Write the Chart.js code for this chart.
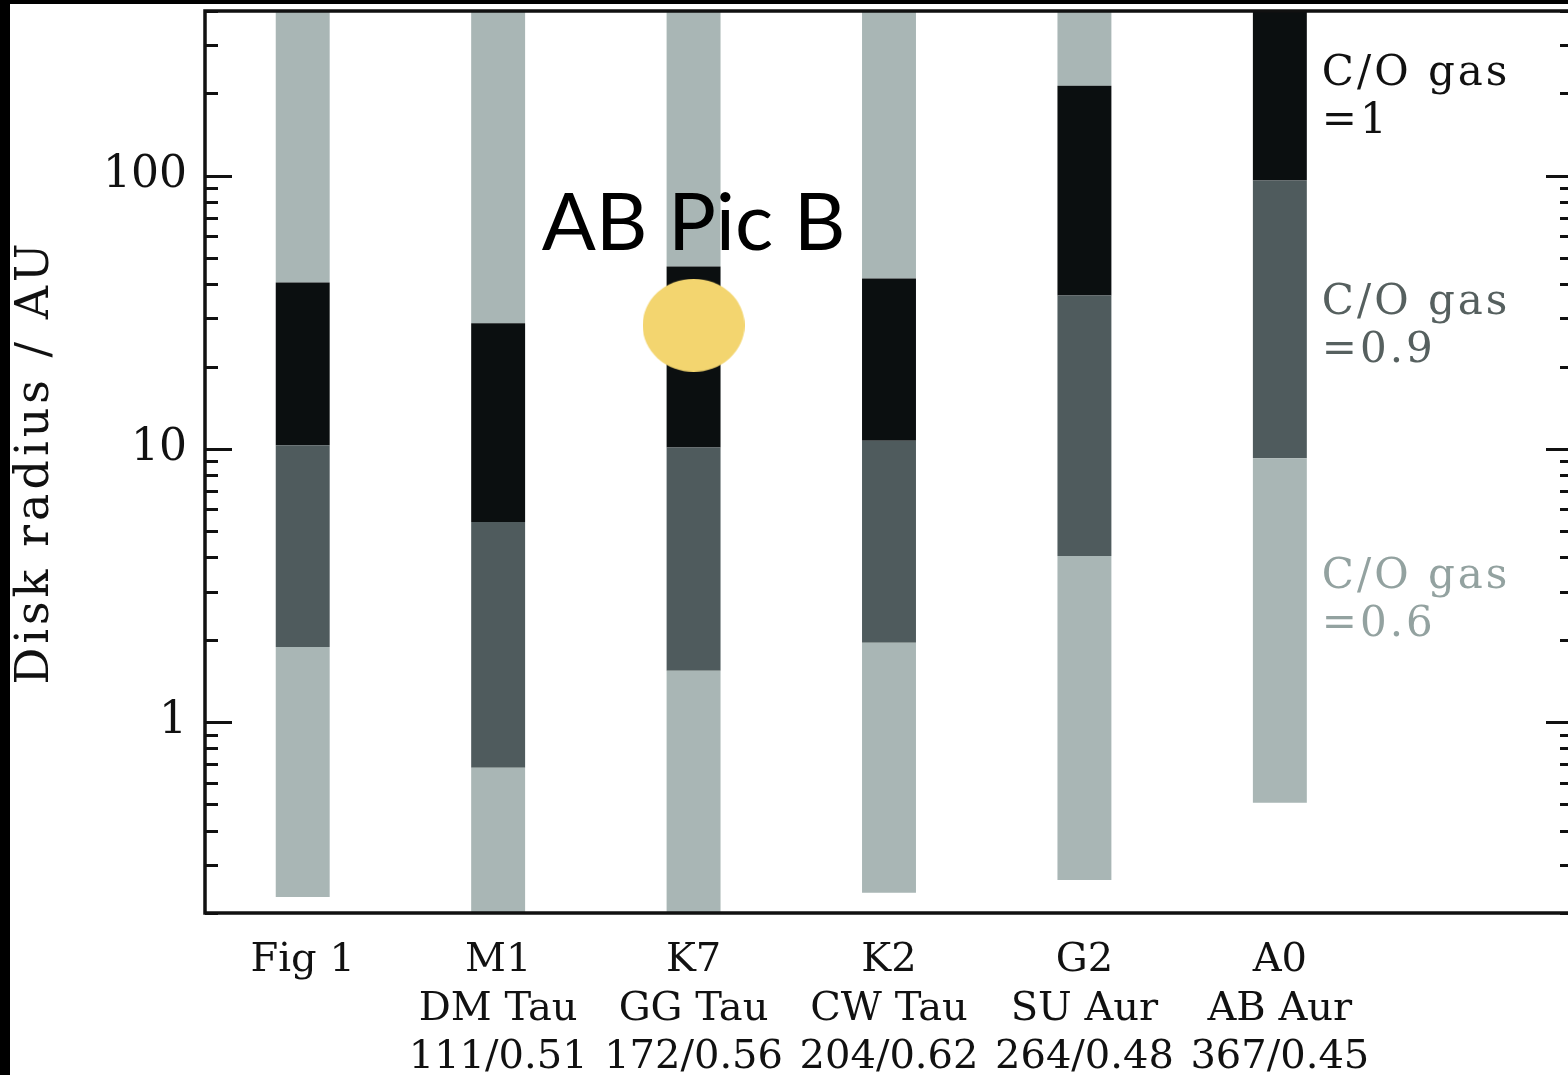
<!DOCTYPE html>
<html>
<head>
<meta charset="utf-8">
<script src="https://cdn.jsdelivr.net/npm/chart.js@4.4.1/dist/chart.umd.min.js"></script>
<style>
  html, body { margin: 0; padding: 0; background: #000; overflow: hidden; width: 1568px; height: 1075px; }
  #wrap { position: absolute; left: 10px; top: 4px; width: 1570px; height: 1071px; background: #fff; }
</style>
</head>
<body>
<div id="wrap"><canvas id="chart" width="1570" height="1071"></canvas></div>
<script>
const categories = ["Fig 1", "M1", "K7", "K2", "G2", "A0", ""];
const starNames = ["", "DM Tau", "GG Tau", "CW Tau", "SU Aur", "AB Aur", ""];
const starParams = ["", "111/0.51", "172/0.56", "204/0.62", "264/0.48", "367/0.45", ""];

// disk radius ranges (AU) for each C/O gas zone, [inner, outer]
const innerGas06 = [[0.229, 1.88], [0.1, 0.68], [0.1, 1.54], [0.237, 1.95], [0.264, 4.05], [0.506, 9.23], null];
const gas09 = [[1.88, 10.3], [0.68, 5.39], [1.54, 10.1], [1.95, 10.7], [4.05, 36.4], [9.23, 95.9], null];
const gas1 = [[10.3, 40.6], [5.39, 28.8], [10.1, 46.5], [10.7, 42.0], [36.4, 213], [95.9, 1000], null];
const outerGas06 = [[40.6, 1000], [28.8, 1000], [46.5, 1000], [42.0, 1000], [213, 1000], null, null];

// AB Pic B position
const abPicB = [{ x: "K7", y: 28.3 }];

const yTicks = [0.2, 0.3, 0.4, 0.5, 0.6, 0.7, 0.8, 0.9, 1, 2, 3, 4, 5, 6, 7, 8, 9, 10,
                20, 30, 40, 50, 60, 70, 80, 90, 100, 200, 300, 400];
const yLabels = [1, 10, 100];

const LIGHT = "#a9b6b5";
const DARK = "#4f5b5d";
const BLACK = "#0b0f10";
const SERIF = "'DejaVu Serif', serif";

// slightly wide ellipse used as the marker
const blob = document.createElement("canvas");
blob.width = 102;
blob.height = 93;
(function () {
    const c = blob.getContext("2d");
    c.fillStyle = "#f3d56f";
    c.beginPath();
    c.ellipse(51, 46.5, 51, 46.5, 0, 0, Math.PI * 2);
    c.fill();
})();

const frame = {
    id: "frame",
    afterDraw(chart) {
        const ctx = chart.ctx;
        const a = chart.chartArea;
        const y = chart.scales.y;
        const x = chart.scales.x;
        ctx.save();
        ctx.strokeStyle = "#111";
        ctx.lineWidth = 3.5;
        ctx.strokeRect(a.left, a.top, a.right - a.left, a.bottom - a.top);

        // inward ticks on both sides
        ctx.lineWidth = 3;
        for (const v of yTicks) {
            const py = Math.round(y.getPixelForValue(v)) + 0.5;
            const len = yLabels.includes(v) ? 27 : 13;
            ctx.beginPath();
            ctx.moveTo(a.left, py);
            ctx.lineTo(a.left + len, py);
            ctx.moveTo(a.right, py);
            ctx.lineTo(a.right - len, py);
            ctx.stroke();
        }

        // axis title, spaced out like the original
        ctx.save();
        ctx.translate(26, (a.top + a.bottom) / 2);
        ctx.rotate(-Math.PI / 2);
        ctx.fillStyle = "#111";
        ctx.font = "46px " + SERIF;
        ctx.letterSpacing = "4px";
        ctx.textAlign = "center";
        ctx.textBaseline = "middle";
        ctx.fillText("Disk radius / AU", 0, 0);
        ctx.restore();

        // AB Pic B label
        const pt = chart.getDatasetMeta(4).data[0];
        ctx.fillStyle = "#000";
        ctx.font = "80px Lato";
        ctx.textAlign = "center";
        ctx.textBaseline = "alphabetic";
        ctx.fillText("AB Pic B", pt.x, pt.y - 75);

        // zone labels
        const lx = x.getPixelForValue(5) + 42;
        const zones = [
            { top: 63, lines: ["C/O gas", "=1"], color: "#111" },
            { top: 292, lines: ["C/O gas", "=0.9"], color: "#56605f" },
            { top: 566, lines: ["C/O gas", "=0.6"], color: "#93a2a0" },
        ];
        ctx.textAlign = "left";
        ctx.textBaseline = "middle";
        ctx.font = "42px " + SERIF;
        ctx.letterSpacing = "3px";
        for (const z of zones) {
            ctx.fillStyle = z.color;
            z.lines.forEach((t, i) => ctx.fillText(t, lx, a.top + z.top + i * 48));
        }
        ctx.restore();
    }
};

function barSet(label, data, color) {
    return {
        type: "bar",
        label: label,
        data: data,
        backgroundColor: color,
        borderWidth: 0,
        grouped: false,
        barPercentage: 0.276,
        categoryPercentage: 1,
        order: 1,
    };
}

new Chart(document.getElementById("chart"), {
    type: "bar",
    data: {
        labels: categories,
        datasets: [
            barSet("C/O gas = 0.6 (inner)", innerGas06, LIGHT),
            barSet("C/O gas = 0.9", gas09, DARK),
            barSet("C/O gas = 1", gas1, BLACK),
            barSet("C/O gas = 0.6 (outer)", outerGas06, LIGHT),
            {
                type: "line",
                label: "AB Pic B",
                data: abPicB,
                showLine: false,
                pointStyle: blob,
                pointRadius: 48,
                pointHoverRadius: 48,
                pointBorderWidth: 0,
                order: 0,
            },
        ],
    },
    options: {
        responsive: false,
        animation: false,
        layout: { autoPadding: false, padding: { top: 7, right: 7, left: 0, bottom: 0 } },
        plugins: {
            legend: { display: false },
            tooltip: { enabled: false },
        },
        scales: {
            x: {
                type: "category",
                offset: true,
                grid: { display: false, drawTicks: false },
                border: { display: false },
                ticks: {
                    autoSkip: false,
                    maxRotation: 0,
                    padding: 23,
                    color: "#111",
                    font: { family: SERIF, size: 40, lineHeight: 1.22 },
                    callback: (v, i) => [categories[i], starNames[i], starParams[i]],
                },
                afterFit: (s) => {
                    s.height = 162;
                    s.paddingLeft = 0;
                    s.paddingRight = 0;
                },
            },
            y: {
                type: "logarithmic",
                min: 0.2,
                max: 400,
                grid: { display: false, drawTicks: false },
                border: { display: false },
                afterBuildTicks: (s) => { s.ticks = yTicks.map(v => ({ value: v })); },
                ticks: {
                    autoSkip: false,
                    padding: 18,
                    color: "#111",
                    font: { family: SERIF, size: 44 },
                    callback: (v) => yLabels.includes(v) ? String(v) : "",
                },
                afterFit: (s) => {
                    s.width = 195;
                    s.paddingTop = 0;
                    s.paddingBottom = 0;
                },
            },
        },
    },
    plugins: [frame],
});
</script>
</body>
</html>
